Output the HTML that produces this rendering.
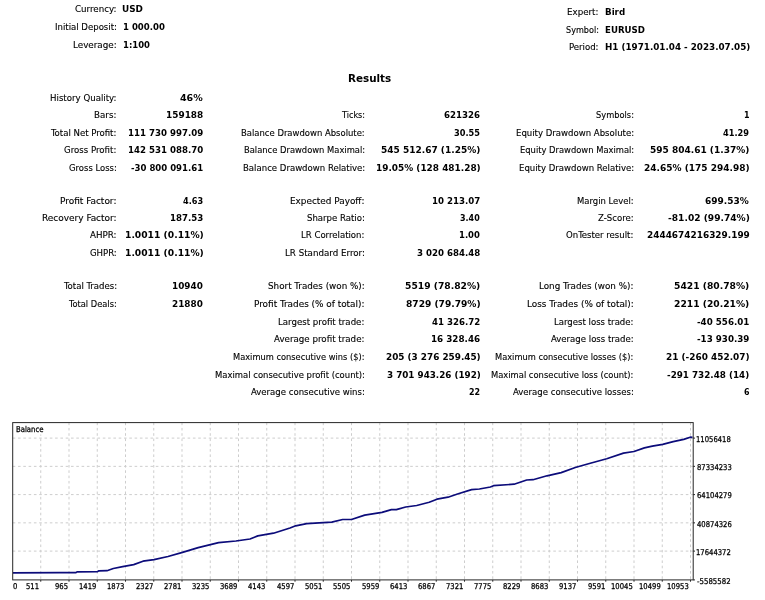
<!DOCTYPE html>
<html><head><meta charset="utf-8"><title>Strategy Tester Report</title>
<style>html,body{margin:0;padding:0;background:#fff;width:765px;height:600px;overflow:hidden} svg{display:block} text{stroke:#000;stroke-width:0.12px} text[font-weight]{stroke-width:0} text[font-size="8px"]{stroke-width:0.25px}</style>
</head><body>
<svg width="765" height="600" viewBox="0 0 765 600" font-family="'DejaVu Sans Condensed','DejaVu Sans','Liberation Sans',sans-serif" fill="#000">
<line x1="40.75" y1="422.6" x2="40.75" y2="579.9" stroke="#cdcdcd" stroke-width="1" stroke-dasharray="2.6 2.7"/>
<line x1="69.0" y1="422.6" x2="69.0" y2="579.9" stroke="#cdcdcd" stroke-width="1" stroke-dasharray="2.6 2.7"/>
<line x1="97.25" y1="422.6" x2="97.25" y2="579.9" stroke="#cdcdcd" stroke-width="1" stroke-dasharray="2.6 2.7"/>
<line x1="125.5" y1="422.6" x2="125.5" y2="579.9" stroke="#cdcdcd" stroke-width="1" stroke-dasharray="2.6 2.7"/>
<line x1="153.75" y1="422.6" x2="153.75" y2="579.9" stroke="#cdcdcd" stroke-width="1" stroke-dasharray="2.6 2.7"/>
<line x1="182.0" y1="422.6" x2="182.0" y2="579.9" stroke="#cdcdcd" stroke-width="1" stroke-dasharray="2.6 2.7"/>
<line x1="210.25" y1="422.6" x2="210.25" y2="579.9" stroke="#cdcdcd" stroke-width="1" stroke-dasharray="2.6 2.7"/>
<line x1="238.5" y1="422.6" x2="238.5" y2="579.9" stroke="#cdcdcd" stroke-width="1" stroke-dasharray="2.6 2.7"/>
<line x1="266.75" y1="422.6" x2="266.75" y2="579.9" stroke="#cdcdcd" stroke-width="1" stroke-dasharray="2.6 2.7"/>
<line x1="295.0" y1="422.6" x2="295.0" y2="579.9" stroke="#cdcdcd" stroke-width="1" stroke-dasharray="2.6 2.7"/>
<line x1="323.25" y1="422.6" x2="323.25" y2="579.9" stroke="#cdcdcd" stroke-width="1" stroke-dasharray="2.6 2.7"/>
<line x1="351.5" y1="422.6" x2="351.5" y2="579.9" stroke="#cdcdcd" stroke-width="1" stroke-dasharray="2.6 2.7"/>
<line x1="379.75" y1="422.6" x2="379.75" y2="579.9" stroke="#cdcdcd" stroke-width="1" stroke-dasharray="2.6 2.7"/>
<line x1="408.0" y1="422.6" x2="408.0" y2="579.9" stroke="#cdcdcd" stroke-width="1" stroke-dasharray="2.6 2.7"/>
<line x1="436.25" y1="422.6" x2="436.25" y2="579.9" stroke="#cdcdcd" stroke-width="1" stroke-dasharray="2.6 2.7"/>
<line x1="464.5" y1="422.6" x2="464.5" y2="579.9" stroke="#cdcdcd" stroke-width="1" stroke-dasharray="2.6 2.7"/>
<line x1="492.75" y1="422.6" x2="492.75" y2="579.9" stroke="#cdcdcd" stroke-width="1" stroke-dasharray="2.6 2.7"/>
<line x1="521.0" y1="422.6" x2="521.0" y2="579.9" stroke="#cdcdcd" stroke-width="1" stroke-dasharray="2.6 2.7"/>
<line x1="549.25" y1="422.6" x2="549.25" y2="579.9" stroke="#cdcdcd" stroke-width="1" stroke-dasharray="2.6 2.7"/>
<line x1="577.5" y1="422.6" x2="577.5" y2="579.9" stroke="#cdcdcd" stroke-width="1" stroke-dasharray="2.6 2.7"/>
<line x1="605.75" y1="422.6" x2="605.75" y2="579.9" stroke="#cdcdcd" stroke-width="1" stroke-dasharray="2.6 2.7"/>
<line x1="634.0" y1="422.6" x2="634.0" y2="579.9" stroke="#cdcdcd" stroke-width="1" stroke-dasharray="2.6 2.7"/>
<line x1="662.25" y1="422.6" x2="662.25" y2="579.9" stroke="#cdcdcd" stroke-width="1" stroke-dasharray="2.6 2.7"/>
<line x1="690.5" y1="422.6" x2="690.5" y2="579.9" stroke="#cdcdcd" stroke-width="1" stroke-dasharray="2.6 2.7"/>
<line x1="12.7" y1="438.1" x2="693.2" y2="438.1" stroke="#cdcdcd" stroke-width="1" stroke-dasharray="2.6 2.7"/>
<line x1="12.7" y1="466.35" x2="693.2" y2="466.35" stroke="#cdcdcd" stroke-width="1" stroke-dasharray="2.6 2.7"/>
<line x1="12.7" y1="494.6" x2="693.2" y2="494.6" stroke="#cdcdcd" stroke-width="1" stroke-dasharray="2.6 2.7"/>
<line x1="12.7" y1="522.85" x2="693.2" y2="522.85" stroke="#cdcdcd" stroke-width="1" stroke-dasharray="2.6 2.7"/>
<line x1="12.7" y1="551.1" x2="693.2" y2="551.1" stroke="#cdcdcd" stroke-width="1" stroke-dasharray="2.6 2.7"/>
<rect x="13.3" y="423.2" width="33" height="11.3" fill="#fff"/>
<polyline fill="none" stroke="#0c0c7a" stroke-width="1.7" stroke-linejoin="round" points="13,572.8 60,572.7 75.7,572.7 77,571.9 97.6,571.6 99,570.8 107,570.7 113.3,568.5 122.7,566.7 133.7,564.6 143,561.2 154,559.6 168,556.5 182.5,552.4 198.2,547.6 218.6,542.6 235.9,541 250,539 257.8,535.9 273.5,533.2 290,528 295.7,525.8 306.7,523.7 331.8,522.2 342.7,519.5 352.2,519.3 364.7,515.1 382,512.4 391.4,509.6 396.3,509.6 405.7,507 416.7,505.5 429.2,502.3 437,499.2 448,497.2 457.5,494 471.6,489.6 479.4,489 490.4,487 493.5,485.7 514.1,484.2 526.7,480 533,479.7 547,475.8 561.2,472.6 575.3,467.5 589.4,463.5 606.7,458.8 623.5,453.1 634,451.5 644.4,447.9 652.3,446.2 662.7,444.3 673.2,441.7 683.7,439.4 690.2,437.2 692.5,437.4"/>
<rect x="12.7" y="422.6" width="680.50" height="157.30" fill="none" stroke="#262626" stroke-width="1"/>
<line x1="693.2" y1="438.1" x2="695.0" y2="438.1" stroke="#262626" stroke-width="1"/>
<line x1="693.2" y1="466.35" x2="695.0" y2="466.35" stroke="#262626" stroke-width="1"/>
<line x1="693.2" y1="494.6" x2="695.0" y2="494.6" stroke="#262626" stroke-width="1"/>
<line x1="693.2" y1="522.85" x2="695.0" y2="522.85" stroke="#262626" stroke-width="1"/>
<line x1="693.2" y1="551.1" x2="695.0" y2="551.1" stroke="#262626" stroke-width="1"/>
<line x1="693.2" y1="579.9" x2="695.0" y2="579.9" stroke="#262626" stroke-width="1"/>
<line x1="40.75" y1="579.9" x2="40.75" y2="581.6999999999999" stroke="#262626" stroke-width="1"/>
<line x1="69.0" y1="579.9" x2="69.0" y2="581.6999999999999" stroke="#262626" stroke-width="1"/>
<line x1="97.25" y1="579.9" x2="97.25" y2="581.6999999999999" stroke="#262626" stroke-width="1"/>
<line x1="125.5" y1="579.9" x2="125.5" y2="581.6999999999999" stroke="#262626" stroke-width="1"/>
<line x1="153.75" y1="579.9" x2="153.75" y2="581.6999999999999" stroke="#262626" stroke-width="1"/>
<line x1="182.0" y1="579.9" x2="182.0" y2="581.6999999999999" stroke="#262626" stroke-width="1"/>
<line x1="210.25" y1="579.9" x2="210.25" y2="581.6999999999999" stroke="#262626" stroke-width="1"/>
<line x1="238.5" y1="579.9" x2="238.5" y2="581.6999999999999" stroke="#262626" stroke-width="1"/>
<line x1="266.75" y1="579.9" x2="266.75" y2="581.6999999999999" stroke="#262626" stroke-width="1"/>
<line x1="295.0" y1="579.9" x2="295.0" y2="581.6999999999999" stroke="#262626" stroke-width="1"/>
<line x1="323.25" y1="579.9" x2="323.25" y2="581.6999999999999" stroke="#262626" stroke-width="1"/>
<line x1="351.5" y1="579.9" x2="351.5" y2="581.6999999999999" stroke="#262626" stroke-width="1"/>
<line x1="379.75" y1="579.9" x2="379.75" y2="581.6999999999999" stroke="#262626" stroke-width="1"/>
<line x1="408.0" y1="579.9" x2="408.0" y2="581.6999999999999" stroke="#262626" stroke-width="1"/>
<line x1="436.25" y1="579.9" x2="436.25" y2="581.6999999999999" stroke="#262626" stroke-width="1"/>
<line x1="464.5" y1="579.9" x2="464.5" y2="581.6999999999999" stroke="#262626" stroke-width="1"/>
<line x1="492.75" y1="579.9" x2="492.75" y2="581.6999999999999" stroke="#262626" stroke-width="1"/>
<line x1="521.0" y1="579.9" x2="521.0" y2="581.6999999999999" stroke="#262626" stroke-width="1"/>
<line x1="549.25" y1="579.9" x2="549.25" y2="581.6999999999999" stroke="#262626" stroke-width="1"/>
<line x1="577.5" y1="579.9" x2="577.5" y2="581.6999999999999" stroke="#262626" stroke-width="1"/>
<line x1="605.75" y1="579.9" x2="605.75" y2="581.6999999999999" stroke="#262626" stroke-width="1"/>
<line x1="634.0" y1="579.9" x2="634.0" y2="581.6999999999999" stroke="#262626" stroke-width="1"/>
<line x1="662.25" y1="579.9" x2="662.25" y2="581.6999999999999" stroke="#262626" stroke-width="1"/>
<line x1="690.5" y1="579.9" x2="690.5" y2="581.6999999999999" stroke="#262626" stroke-width="1"/>
<text transform="matrix(0.9600,0,0,1,16,432)" font-size="8px">Balance</text>
<text transform="matrix(0.9500,0,0,1,696,442)" font-size="8px">11056418</text>
<text transform="matrix(0.9500,0,0,1,697,470)" font-size="8px">87334233</text>
<text transform="matrix(0.9500,0,0,1,697,498)" font-size="8px">64104279</text>
<text transform="matrix(0.9500,0,0,1,697,527)" font-size="8px">40874326</text>
<text transform="matrix(0.9500,0,0,1,696,555)" font-size="8px">17644372</text>
<text transform="matrix(0.9700,0,0,1,697,584)" font-size="8px">-5585582</text>
<text transform="matrix(0.9500,0,0,1,13,589)" font-size="8px">0</text>
<text transform="matrix(0.9500,0,0,1,26,589)" font-size="8px">511</text>
<text transform="matrix(0.9500,0,0,1,55,589)" font-size="8px">965</text>
<text transform="matrix(0.9500,0,0,1,79,589)" font-size="8px">1419</text>
<text transform="matrix(0.9500,0,0,1,107,589)" font-size="8px">1873</text>
<text transform="matrix(0.9500,0,0,1,136,589)" font-size="8px">2327</text>
<text transform="matrix(0.9500,0,0,1,164,589)" font-size="8px">2781</text>
<text transform="matrix(0.9500,0,0,1,192,589)" font-size="8px">3235</text>
<text transform="matrix(0.9500,0,0,1,220,589)" font-size="8px">3689</text>
<text transform="matrix(0.9500,0,0,1,248,589)" font-size="8px">4143</text>
<text transform="matrix(0.9500,0,0,1,277,589)" font-size="8px">4597</text>
<text transform="matrix(0.9500,0,0,1,305,589)" font-size="8px">5051</text>
<text transform="matrix(0.9500,0,0,1,333,589)" font-size="8px">5505</text>
<text transform="matrix(0.9500,0,0,1,362,589)" font-size="8px">5959</text>
<text transform="matrix(0.9500,0,0,1,390,589)" font-size="8px">6413</text>
<text transform="matrix(0.9500,0,0,1,418,589)" font-size="8px">6867</text>
<text transform="matrix(0.9500,0,0,1,446,589)" font-size="8px">7321</text>
<text transform="matrix(0.9500,0,0,1,474,589)" font-size="8px">7775</text>
<text transform="matrix(0.9500,0,0,1,503,589)" font-size="8px">8229</text>
<text transform="matrix(0.9500,0,0,1,531,589)" font-size="8px">8683</text>
<text transform="matrix(0.9500,0,0,1,559,589)" font-size="8px">9137</text>
<text transform="matrix(0.9500,0,0,1,588,589)" font-size="8px">9591</text>
<text transform="matrix(0.9500,0,0,1,611,589)" font-size="8px">10045</text>
<text transform="matrix(0.9500,0,0,1,639,589)" font-size="8px">10499</text>
<text transform="matrix(0.9500,0,0,1,667,589)" font-size="8px">10953</text>
<text transform="matrix(1.0200,0,0,1,75,12)" font-size="9.5px">Currency:</text>
<text transform="matrix(1.1200,0,0,1,122,12)" font-size="8.8px" font-weight="bold">USD</text>
<text x="55" y="30" font-size="9.5px">Initial Deposit:</text>
<text transform="matrix(1.0800,0,0,1,123,30)" font-size="8.8px" font-weight="bold">1 000.00</text>
<text transform="matrix(1.0300,0,0,1,73,48)" font-size="9.5px">Leverage:</text>
<text transform="matrix(1.0700,0,0,1,123,48)" font-size="8.8px" font-weight="bold">1:100</text>
<text transform="matrix(1.0200,0,0,1,567,15)" font-size="9.5px">Expert:</text>
<text transform="matrix(1.1000,0,0,1,605,15)" font-size="8.8px" font-weight="bold">Bird</text>
<text transform="matrix(0.9500,0,0,1,566,33)" font-size="9.5px">Symbol:</text>
<text transform="matrix(1.0900,0,0,1,605,33)" font-size="8.8px" font-weight="bold">EURUSD</text>
<text x="569" y="50" font-size="9.5px">Period:</text>
<text transform="matrix(1.1100,0,0,1,605,50)" font-size="8.8px" font-weight="bold">H1 (1971.01.04 - 2023.07.05)</text>
<text transform="matrix(1.0200,0,0,1,348,82)" font-size="11.3px" font-weight="bold">Results</text>
<text transform="matrix(1.0100,0,0,1,50,101)" font-size="9.5px">History Quality:</text>
<text transform="matrix(1.2000,0,0,1,180,101)" font-size="8.8px" font-weight="bold">46%</text>
<text transform="matrix(1.0200,0,0,1,94,118)" font-size="9.5px">Bars:</text>
<text transform="matrix(1.1300,0,0,1,166,118)" font-size="8.8px" font-weight="bold">159188</text>
<text x="51" y="136" font-size="9.5px">Total Net Profit:</text>
<text transform="matrix(1.0900,0,0,1,128,136)" font-size="8.8px" font-weight="bold">111 730 997.09</text>
<text transform="matrix(1.0100,0,0,1,64,153)" font-size="9.5px">Gross Profit:</text>
<text transform="matrix(1.0900,0,0,1,128,153)" font-size="8.8px" font-weight="bold">142 531 088.70</text>
<text transform="matrix(0.9900,0,0,1,69,171)" font-size="9.5px">Gross Loss:</text>
<text transform="matrix(1.0800,0,0,1,131,171)" font-size="8.8px" font-weight="bold">-30 800 091.61</text>
<text transform="matrix(1.0500,0,0,1,60,204)" font-size="9.5px">Profit Factor:</text>
<text transform="matrix(1.0300,0,0,1,183,204)" font-size="8.8px" font-weight="bold">4.63</text>
<text transform="matrix(1.0500,0,0,1,42,221)" font-size="9.5px">Recovery Factor:</text>
<text transform="matrix(1.0900,0,0,1,170,221)" font-size="8.8px" font-weight="bold">187.53</text>
<text transform="matrix(1.0200,0,0,1,90,238)" font-size="9.5px">AHPR:</text>
<text transform="matrix(1.1600,0,0,1,125,238)" font-size="8.8px" font-weight="bold">1.0011 (0.11%)</text>
<text x="90" y="256" font-size="9.5px">GHPR:</text>
<text transform="matrix(1.1600,0,0,1,125,256)" font-size="8.8px" font-weight="bold">1.0011 (0.11%)</text>
<text x="64" y="289" font-size="9.5px">Total Trades:</text>
<text transform="matrix(1.1200,0,0,1,172,289)" font-size="8.8px" font-weight="bold">10940</text>
<text transform="matrix(0.9700,0,0,1,69,307)" font-size="9.5px">Total Deals:</text>
<text transform="matrix(1.1200,0,0,1,172,307)" font-size="8.8px" font-weight="bold">21880</text>
<text transform="matrix(0.9500,0,0,1,342,118)" font-size="9.5px">Ticks:</text>
<text transform="matrix(1.0900,0,0,1,444,118)" font-size="8.8px" font-weight="bold">621326</text>
<text transform="matrix(0.9900,0,0,1,241,136)" font-size="9.5px">Balance Drawdown Absolute:</text>
<text transform="matrix(1.0400,0,0,1,454,136)" font-size="8.8px" font-weight="bold">30.55</text>
<text transform="matrix(0.9800,0,0,1,244,153)" font-size="9.5px">Balance Drawdown Maximal:</text>
<text transform="matrix(1.1400,0,0,1,381,153)" font-size="8.8px" font-weight="bold">545 512.67 (1.25%)</text>
<text x="243" y="171" font-size="9.5px">Balance Drawdown Relative:</text>
<text transform="matrix(1.1300,0,0,1,376,171)" font-size="8.8px" font-weight="bold">19.05% (128 481.28)</text>
<text transform="matrix(1.0400,0,0,1,290,204)" font-size="9.5px">Expected Payoff:</text>
<text transform="matrix(1.0900,0,0,1,432,204)" font-size="8.8px" font-weight="bold">10 213.07</text>
<text x="307" y="221" font-size="9.5px">Sharpe Ratio:</text>
<text transform="matrix(1.0100,0,0,1,460,221)" font-size="8.8px" font-weight="bold">3.40</text>
<text x="301" y="238" font-size="9.5px">LR Correlation:</text>
<text transform="matrix(1.0700,0,0,1,459,238)" font-size="8.8px" font-weight="bold">1.00</text>
<text transform="matrix(1.0200,0,0,1,285,256)" font-size="9.5px">LR Standard Error:</text>
<text transform="matrix(1.0900,0,0,1,417,256)" font-size="8.8px" font-weight="bold">3 020 684.48</text>
<text transform="matrix(1.0300,0,0,1,268,289)" font-size="9.5px">Short Trades (won %):</text>
<text transform="matrix(1.1600,0,0,1,405,289)" font-size="8.8px" font-weight="bold">5519 (78.82%)</text>
<text transform="matrix(1.0400,0,0,1,254,307)" font-size="9.5px">Profit Trades (% of total):</text>
<text transform="matrix(1.1500,0,0,1,406,307)" font-size="8.8px" font-weight="bold">8729 (79.79%)</text>
<text transform="matrix(1.0100,0,0,1,278,325)" font-size="9.5px">Largest profit trade:</text>
<text transform="matrix(1.0900,0,0,1,432,325)" font-size="8.8px" font-weight="bold">41 326.72</text>
<text transform="matrix(1.0200,0,0,1,274,342)" font-size="9.5px">Average profit trade:</text>
<text transform="matrix(1.1100,0,0,1,431,342)" font-size="8.8px" font-weight="bold">16 328.46</text>
<text transform="matrix(0.9700,0,0,1,233,360)" font-size="9.5px">Maximum consecutive wins ($):</text>
<text transform="matrix(1.1200,0,0,1,386,360)" font-size="8.8px" font-weight="bold">205 (3 276 259.45)</text>
<text transform="matrix(0.9900,0,0,1,215,378)" font-size="9.5px">Maximal consecutive profit (count):</text>
<text transform="matrix(1.1100,0,0,1,387,378)" font-size="8.8px" font-weight="bold">3 701 943.26 (192)</text>
<text x="251" y="395" font-size="9.5px">Average consecutive wins:</text>
<text transform="matrix(1.0100,0,0,1,469,395)" font-size="8.8px" font-weight="bold">22</text>
<text transform="matrix(0.9700,0,0,1,596,118)" font-size="9.5px">Symbols:</text>
<text x="744" y="118" font-size="8.8px" font-weight="bold">1</text>
<text x="516" y="136" font-size="9.5px">Equity Drawdown Absolute:</text>
<text transform="matrix(1.0400,0,0,1,723,136)" font-size="8.8px" font-weight="bold">41.29</text>
<text transform="matrix(0.9800,0,0,1,520,153)" font-size="9.5px">Equity Drawdown Maximal:</text>
<text transform="matrix(1.1400,0,0,1,650,153)" font-size="8.8px" font-weight="bold">595 804.61 (1.37%)</text>
<text x="519" y="171" font-size="9.5px">Equity Drawdown Relative:</text>
<text transform="matrix(1.1400,0,0,1,644,171)" font-size="8.8px" font-weight="bold">24.65% (175 294.98)</text>
<text transform="matrix(0.9900,0,0,1,577,204)" font-size="9.5px">Margin Level:</text>
<text transform="matrix(1.1400,0,0,1,705,204)" font-size="8.8px" font-weight="bold">699.53%</text>
<text x="598" y="221" font-size="9.5px">Z-Score:</text>
<text transform="matrix(1.1500,0,0,1,668,221)" font-size="8.8px" font-weight="bold">-81.02 (99.74%)</text>
<text x="566" y="238" font-size="9.5px">OnTester result:</text>
<text transform="matrix(1.1300,0,0,1,647,238)" font-size="8.8px" font-weight="bold">2444674216329.199</text>
<text transform="matrix(1.0300,0,0,1,539,289)" font-size="9.5px">Long Trades (won %):</text>
<text transform="matrix(1.1600,0,0,1,674,289)" font-size="8.8px" font-weight="bold">5421 (80.78%)</text>
<text transform="matrix(1.0400,0,0,1,527,307)" font-size="9.5px">Loss Trades (% of total):</text>
<text transform="matrix(1.1600,0,0,1,674,307)" font-size="8.8px" font-weight="bold">2211 (20.21%)</text>
<text x="554" y="325" font-size="9.5px">Largest loss trade:</text>
<text transform="matrix(1.1000,0,0,1,697,325)" font-size="8.8px" font-weight="bold">-40 556.01</text>
<text x="551" y="342" font-size="9.5px">Average loss trade:</text>
<text transform="matrix(1.1000,0,0,1,697,342)" font-size="8.8px" font-weight="bold">-13 930.39</text>
<text transform="matrix(0.9700,0,0,1,495,360)" font-size="9.5px">Maximum consecutive losses ($):</text>
<text transform="matrix(1.1300,0,0,1,666,360)" font-size="8.8px" font-weight="bold">21 (-260 452.07)</text>
<text transform="matrix(0.9800,0,0,1,491,378)" font-size="9.5px">Maximal consecutive loss (count):</text>
<text transform="matrix(1.1100,0,0,1,667,378)" font-size="8.8px" font-weight="bold">-291 732.48 (14)</text>
<text x="513" y="395" font-size="9.5px">Average consecutive losses:</text>
<text x="744" y="395" font-size="8.8px" font-weight="bold">6</text>
</svg>
</body></html>
